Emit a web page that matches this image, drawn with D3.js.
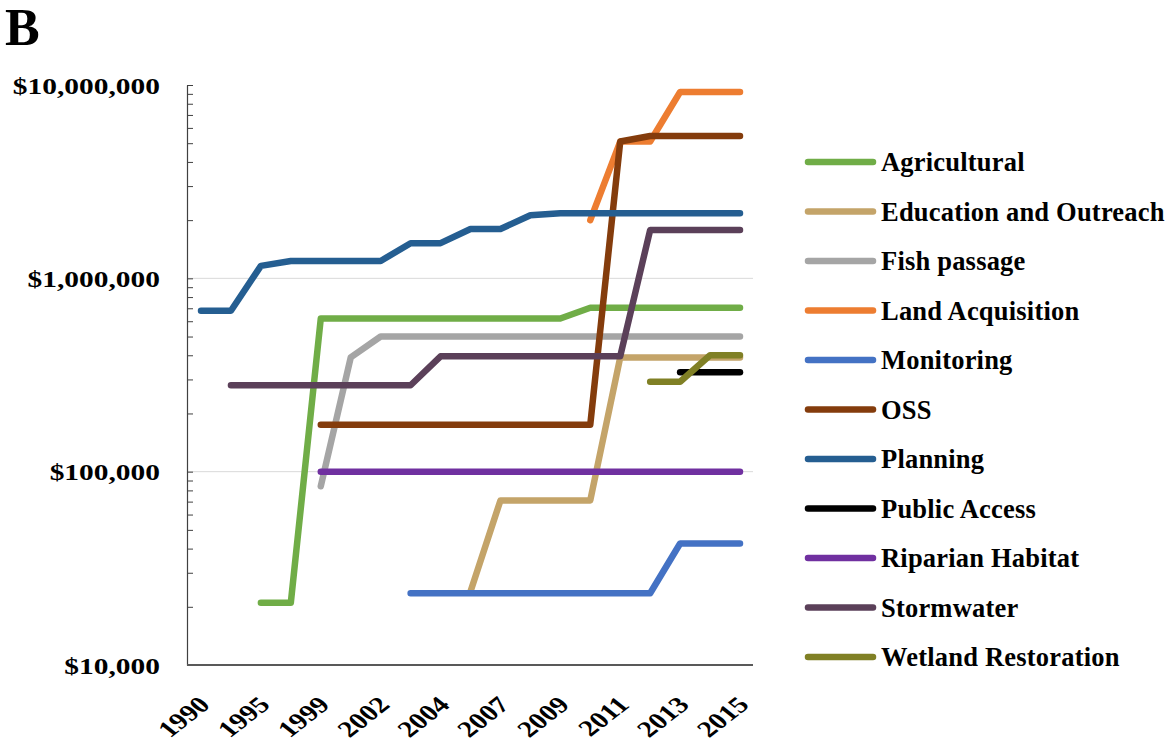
<!DOCTYPE html>
<html>
<head>
<meta charset="utf-8">
<script src="https://cdn.jsdelivr.net/npm/d3@7/dist/d3.min.js"></script>
<style>
  html, body { margin: 0; padding: 0; background: #ffffff; }
  svg { display: block; }
  text { font-family: "Liberation Serif", "Times New Roman", serif; font-weight: bold; fill: #000; }
</style>
</head>
<body>
<svg id="chart" width="1172" height="749"></svg>
<script>
// Funding years (every other year is labelled on the axis)
const years = ["1990","1993","1995","1997","1999","2001","2002","2003","2004","2006",
               "2007","2008","2009","2010","2011","2012","2013","2014","2015"];
const labelledYears = ["1990","1995","1999","2002","2004","2007","2009","2011","2013","2015"];

// Y axis labelled decades
const yTickValues = [10000, 100000, 1000000, 10000000];

// Cumulative funding per category (null = no funding yet)
const agricultural = [null, null, 21000, 21000, 620000, 620000, 620000, 620000, 620000, 620000,
                      620000, 620000, 620000, 705000, 705000, 705000, 705000, 705000, 705000];
const education    = [null, null, null, null, null, null, null, null, null, 24000,
                      71000, 71000, 71000, 71000, 390000, 390000, 390000, 390000, 390000];
const fishPassage  = [null, null, null, null, 84000, 390000, 500000, 500000, 500000, 500000,
                      500000, 500000, 500000, 500000, 500000, 500000, 500000, 500000, 500000];
const landAcq      = [null, null, null, null, null, null, null, null, null, null,
                      null, null, null, 2000000, 5100000, 5100000, 9200000, 9200000, 9200000];
const monitoring   = [null, null, null, null, null, null, null, 23500, 23500, 23500,
                      23500, 23500, 23500, 23500, 23500, 23500, 42500, 42500, 42500];
const oss          = [null, null, null, null, 175000, 175000, 175000, 175000, 175000, 175000,
                      175000, 175000, 175000, 175000, 5100000, 5450000, 5450000, 5450000, 5450000];
const planning     = [680000, 680000, 1160000, 1230000, 1230000, 1230000, 1230000, 1520000, 1520000, 1800000,
                      1800000, 2120000, 2170000, 2170000, 2170000, 2170000, 2170000, 2170000, 2170000];
const publicAccess = [null, null, null, null, null, null, null, null, null, null,
                      null, null, null, null, null, null, 327000, 327000, 327000];
const riparian     = [null, null, null, null, 100000, 100000, 100000, 100000, 100000, 100000,
                      100000, 100000, 100000, 100000, 100000, 100000, 100000, 100000, 100000];
const stormwater   = [null, 280000, 280000, 280000, 280000, 280000, 280000, 280000, 395000, 395000,
                      395000, 395000, 395000, 395000, 395000, 1780000, 1780000, 1780000, 1780000];
const wetland      = [null, null, null, null, null, null, null, null, null, null,
                      null, null, null, null, null, 292000, 292000, 400000, 400000];

const seriesNames  = ["Agricultural", "Education and Outreach", "Fish passage", "Land Acquisition",
                      "Monitoring", "OSS", "Planning", "Public Access", "Riparian Habitat",
                      "Stormwater", "Wetland Restoration"];
const seriesValues = [agricultural, education, fishPassage, landAcq, monitoring, oss,
                      planning, publicAccess, riparian, stormwater, wetland];
const seriesColors = ["#70AD47", "#C4A469", "#A5A5A5", "#ED7D31", "#4472C4", "#843C0C",
                      "#255E91", "#000000", "#7030A0", "#5B4059", "#808025"];

const svg = d3.select("#chart");

const plot = { left: 187, right: 753, top: 85, bottom: 665 };

const x = d3.scalePoint().domain(years).range([201, 740]);
const y = d3.scaleLog().domain([1e4, 1e7]).range([plot.bottom, plot.top]);

// Horizontal gridlines at the labelled decades
svg.append("g")
  .selectAll("line")
  .data([1e5, 1e6])
  .join("line")
  .attr("x1", plot.left).attr("x2", plot.right)
  .attr("y1", d => y(d)).attr("y2", d => y(d))
  .attr("stroke", "#d9d9d9").attr("stroke-width", 1);

// Y axis: major and minor ticks point into the plot
const minorTicks = [];
for (let e = 4; e < 7; e++) for (let m = 1; m <= 9; m++) minorTicks.push(m * Math.pow(10, e));
minorTicks.push(1e7);

const yAxis = svg.append("g")
  .attr("transform", `translate(${plot.left},0)`)
  .call(d3.axisLeft(y)
    .tickValues(minorTicks)
    .tickSizeInner(-6)
    .tickSizeOuter(0)
    .tickFormat(d => yTickValues.includes(d) ? "$" + d3.format(",")(d) : ""));
yAxis.select(".domain").attr("stroke", "#404040").attr("stroke-width", 1.2);
yAxis.selectAll(".tick line").attr("stroke", "#404040").attr("stroke-width", 1);
yAxis.selectAll(".tick text")
  .attr("x", 0).attr("dy", "0.35em")
  .attr("text-anchor", "end")
  .attr("transform", "translate(-27,0) scale(1.28,1)")
  .style("font-size", "23px")
  .style("font-family", "'Liberation Serif', serif")
  .style("font-weight", "bold")
  .attr("fill", "#000");

// X axis baseline
svg.append("line")
  .attr("x1", plot.left).attr("x2", plot.right)
  .attr("y1", plot.bottom).attr("y2", plot.bottom)
  .attr("stroke", "#595959").attr("stroke-width", 2);

const xAxis = svg.append("g")
  .attr("transform", `translate(0,${plot.bottom})`)
  .call(d3.axisBottom(x).tickValues(labelledYears).tickSize(0));
xAxis.select(".domain").remove();
xAxis.selectAll(".tick text")
  .attr("x", 0).attr("y", 0).attr("dy", 0)
  .attr("text-anchor", "end")
  .attr("transform", "translate(10,41) scale(1.28,1) rotate(-45)")
  .style("font-size", "23px")
  .style("font-family", "'Liberation Serif', serif")
  .style("font-weight", "bold")
  .attr("fill", "#000");

// Series lines
const line = d3.line()
  .defined(d => d != null)
  .x((d, i) => x(years[i]))
  .y(d => y(d));

svg.append("g")
  .selectAll("path")
  .data(seriesValues)
  .join("path")
  .attr("d", d => line(d))
  .attr("fill", "none")
  .attr("stroke", (d, i) => seriesColors[i])
  .attr("stroke-width", 6.5)
  .attr("stroke-linecap", "round")
  .attr("stroke-linejoin", "round");

// Legend
const legend = svg.append("g");
const rows = legend.selectAll("g")
  .data(seriesNames)
  .join("g")
  .attr("transform", (d, i) => `translate(0,${162 + i * 49.5})`);
rows.append("line")
  .attr("x1", 808).attr("x2", 873)
  .attr("y1", 0).attr("y2", 0)
  .attr("stroke", (d, i) => seriesColors[i])
  .attr("stroke-width", 6.5)
  .attr("stroke-linecap", "round");
rows.append("text")
  .attr("x", 881).attr("y", 0).attr("dy", "0.35em")
  .style("font-size", "26.5px")
  .style("letter-spacing", "0.2px")
  .text(d => d);

// Panel letter
svg.append("text")
  .attr("x", 5).attr("y", 45)
  .style("font-size", "52px")
  .text("B");
</script>
</body>
</html>
